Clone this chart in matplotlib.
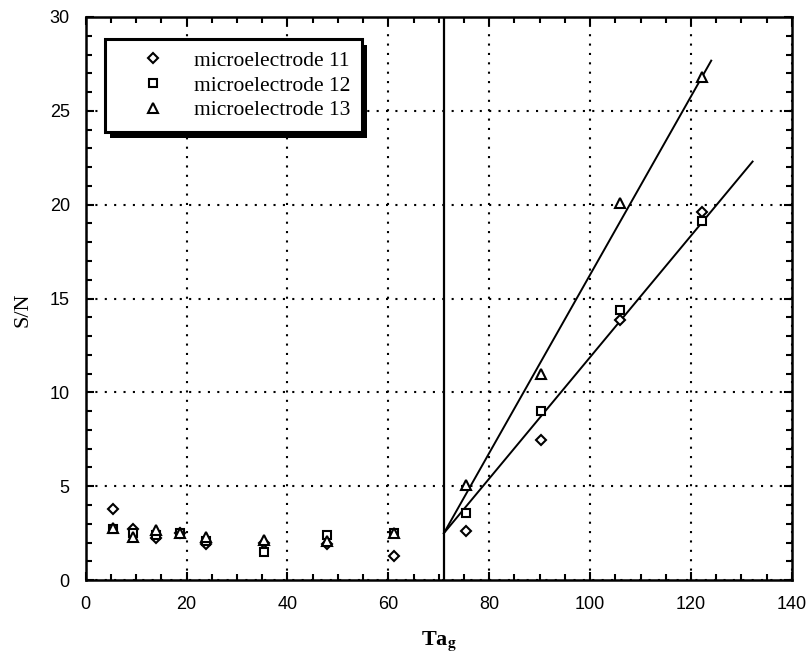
import matplotlib
matplotlib.use("Agg")
import matplotlib.pyplot as plt
from matplotlib.patches import Rectangle
from matplotlib.ticker import MultipleLocator

# ---------- data ----------
ta_g = [5.4, 9.3, 13.9, 18.7, 23.8, 35.3, 47.8, 61.2, 75.4, 90.2, 105.9, 122.1]
sn_11 = [3.8, 2.7, 2.25, 2.5, 1.9, 2.0, 1.9, 1.3, 2.6, 7.45, 13.85, 19.6]
sn_12 = [2.7, 2.5, 2.4, 2.5, 2.1, 1.5, 2.4, 2.5, 3.55, 9.0, 14.4, 19.15]
sn_13 = [2.75, 2.3, 2.65, 2.5, 2.3, 2.15, 2.1, 2.5, 5.05, 11.0, 20.1, 26.8]
labels = ["microelectrode 11", "microelectrode 12", "microelectrode 13"]

# transition and fitted lines (start point, slope, end of fit)
ta_transition = 71.0
sn_transition = 2.5
fit_slopes = [0.475, 0.3235]
fit_end = [124.0, 132.2]

plt.rcParams["font.family"] = ["Liberation Sans", "DejaVu Sans"]
plt.rcParams["mathtext.fontset"] = "stix"

fig = plt.figure(figsize=(8.11, 6.66), dpi=100)
ax = fig.add_axes([0.1057, 0.129, 0.8708, 0.8455])

# ---------- markers ----------
mk = dict(linestyle="none", markerfacecolor="white", markeredgecolor="black",
          markeredgewidth=1.5, zorder=4)
ax.plot(ta_g, sn_11, marker="D", markersize=4.8, label=labels[0], **mk)
ax.plot(ta_g, sn_12, marker="s", markersize=6.2, label=labels[1], **mk)
ax.plot(ta_g, sn_13, marker="^", markersize=6.8, label=labels[2], **mk)

# ---------- fitted lines above the transition ----------
for slope, xend in zip(fit_slopes, fit_end):
    ax.plot([ta_transition, xend],
            [sn_transition, sn_transition + slope * (xend - ta_transition)],
            color="black", lw=1.4, zorder=3)
ax.axvline(ta_transition, color="black", lw=1.6, zorder=3)

# ---------- axes ----------
ax.set_xlim(0, 140)
ax.set_ylim(0, 30)
ax.xaxis.set_major_locator(MultipleLocator(20))
ax.xaxis.set_minor_locator(MultipleLocator(5))
ax.yaxis.set_major_locator(MultipleLocator(5))
ax.yaxis.set_minor_locator(MultipleLocator(1))
ax.tick_params(which="both", direction="in", top=True, right=True,
               labelsize=13, width=1.5, colors="black")
ax.tick_params(which="major", length=6, pad=11.5)
ax.tick_params(which="minor", length=4)
for s in ax.spines.values():
    s.set_linewidth(1.8)

ax.grid(True, which="major", color="black", linestyle=(0, (1, 3.5)), lw=1.5)
ax.set_axisbelow(True)

ax.set_xlabel(r"Ta$_{\mathbf{g}}$", fontsize=16, family="Liberation Serif",
              fontweight="bold")
ax.xaxis.set_label_coords(0.5, -0.088)
ax.set_ylabel("S/N", fontsize=16, family="Liberation Serif")
ax.yaxis.set_label_coords(-0.075, 0.48)

# ---------- legend with a solid offset shadow ----------
leg = ax.legend(loc="upper left", bbox_to_anchor=(0.027, 0.961),
                borderaxespad=0, fancybox=False, framealpha=1,
                edgecolor="black", handlelength=3.4, handletextpad=0.2,
                borderpad=0.55, labelspacing=0.22, numpoints=1,
                prop={"family": "Liberation Serif", "size": 15.5})
leg.get_frame().set_linewidth(2.2)
leg.set_zorder(6)

fig.canvas.draw()
bb = leg.get_window_extent().transformed(fig.transFigure.inverted())
dx, dy = 5 / 811, 6 / 666
shadow = Rectangle((bb.x0 + dx, bb.y0 - dy), bb.width, bb.height,
                   transform=fig.transFigure, facecolor="black",
                   edgecolor="none", zorder=5, clip_on=False)
ax.add_patch(shadow)

fig.savefig("out.png", dpi=100)
